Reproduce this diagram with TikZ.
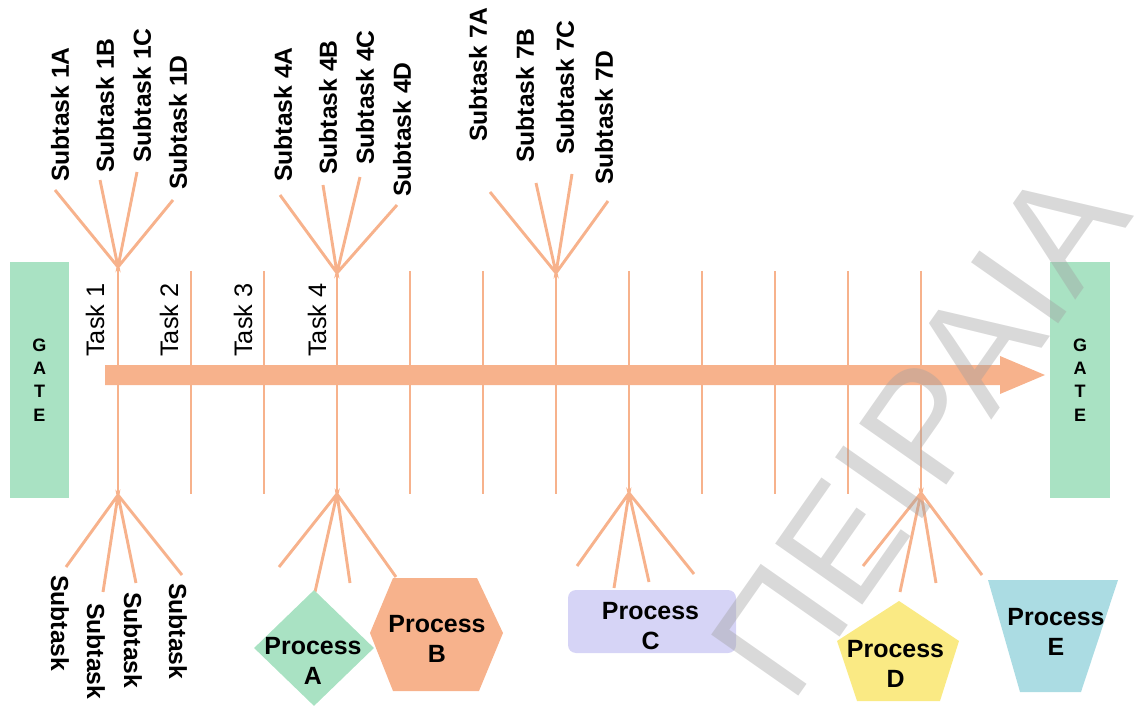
\documentclass[tikz,border=0pt]{standalone}
\usepackage{fontspec}
\setmainfont{Liberation Sans}
\usetikzlibrary{shapes.geometric,calc}

\definecolor{bone}{RGB}{247,178,140}
\definecolor{gategreen}{RGB}{169,226,195}
\definecolor{procA}{RGB}{169,226,195}
\definecolor{procB}{RGB}{247,178,140}
\definecolor{procC}{RGB}{214,212,246}
\definecolor{procD}{RGB}{250,234,132}
\definecolor{procE}{RGB}{171,220,227}
\definecolor{markgray}{RGB}{160,160,160}

\begin{document}
\begin{tikzpicture}[x=0.75pt,y=-0.75pt,
  rib/.style={draw=bone, line width=2.2pt},
  subup/.style={font=\bfseries\fontsize{18.5}{22}\selectfont, inner sep=0pt, anchor=west, rotate=90},
  subdown/.style={font=\bfseries\fontsize{18.5}{22}\selectfont, inner sep=0pt, anchor=west, rotate=-90},
  tasklabel/.style={font=\fontsize{19}{22}\selectfont, inner sep=0pt, anchor=west, rotate=90},
  gatebox/.style={fill=gategreen, minimum width=44.5pt, minimum height=177pt, inner sep=0pt,
                  align=center, font=\bfseries\fontsize{13.5}{17.5}\selectfont},
  plabel/.style={inner sep=0pt, align=center, font=\bfseries\fontsize{18.7}{22}\selectfont}]

\useasboundingbox (0,0) rectangle (1140,706);
\clip (0,0) rectangle (1140,706);

% gates at both ends
\node[gatebox] (gateL) at (39.5,380) {G\\A\\T\\E};
\node[gatebox] (gateR) at (1080,380) {G\\A\\T\\E};

% main spine arrow
\coordinate (tail) at (105,375);
\coordinate (tip) at (1045,375);
\fill[bone] ($(tail)+(0,-10)$) -- ($(tip)+(-45,-10)$) -- ($(tip)+(-45,-19)$) -- (tip)
  -- ($(tip)+(-45,19)$) -- ($(tip)+(-45,10)$) -- ($(tail)+(0,10)$) -- cycle;

% task ribs
\foreach \i/\top/\bot in {1/267/495,2/271/494,3/271/494,4/273/494,5/271/494,6/271/494,
                          7/273/494,8/271/493,9/271/494,10/271/494,11/271/494,12/271/493}{
  \coordinate (top\i) at ({118+73*(\i-1)},\top);
  \coordinate (bot\i) at ({118+73*(\i-1)},\bot);
  \draw[rib] (top\i) -- (bot\i);
}

% upper fans
\foreach \n/\xa/\ya/\xb/\yb/\xc/\yc/\xd/\yd in {
    1/55/190/100/180/137/172/173/200,
    4/280/195/323/185/360/177/397/205,
    7/490/192/536/183/572/174/608/201}{
  \coordinate (ua\n) at (\xa,\ya);
  \coordinate (ub\n) at (\xb,\yb);
  \coordinate (uc\n) at (\xc,\yc);
  \coordinate (ud\n) at (\xd,\yd);
  \draw[rib] (ua\n) -- (top\n) -- (ub\n) (uc\n) -- (top\n) -- (ud\n);
}

% lower fans
\foreach \n/\xa/\ya/\xb/\yb/\xc/\yc/\xd/\yd in {
    1/66/567/103/592/136/583/182/575,
    4/279/567/315/592/350/583/396/577,
    8/577/566/614/588/649/582/694/574,
    12/863/566/900/592/936/583/982/575}{
  \coordinate (la\n) at (\xa,\ya);
  \coordinate (lb\n) at (\xb,\yb);
  \coordinate (lc\n) at (\xc,\yc);
  \coordinate (ld\n) at (\xd,\yd);
  \draw[rib] (la\n) -- (bot\n) -- (lb\n) (lc\n) -- (bot\n) -- (ld\n);
}

% subtask labels above the spine
\node[subup] (s1a) at (60,182) {Subtask 1A};
\node[subup] (s1b) at (105,173) {Subtask 1B};
\node[subup] (s1c) at (142,163) {Subtask 1C};
\node[subup] (s1d) at (178,190) {Subtask 1D};
\node[subup] (s4a) at (283,182) {Subtask 4A};
\node[subup] (s4b) at (328,175) {Subtask 4B};
\node[subup] (s4c) at (365,165) {Subtask 4C};
\node[subup] (s4d) at (402,197) {Subtask 4D};
\node[subup] (s7a) at (478,142) {Subtask 7A};
\node[subup] (s7b) at (525,163) {Subtask 7B};
\node[subup] (s7c) at (565,155) {Subtask 7C};
\node[subup] (s7d) at (604,185) {Subtask 7D};

% task labels
\node[tasklabel] (task1) at (95,357) {Task 1};
\node[tasklabel] (task2) at (169,357) {Task 2};
\node[tasklabel] (task3) at (243,357) {Task 3};
\node[tasklabel] (task4) at (317,357) {Task 4};

% subtask labels below the spine
\node[subdown] (b1) at (60,575) {Subtask};
\node[subdown] (b2) at (96,603) {Subtask};
\node[subdown] (b3) at (133,592) {Subtask};
\node[subdown] (b4) at (178,583) {Subtask};

% process A: diamond
\node[diamond, fill=procA, minimum width=90pt, minimum height=87pt, inner sep=0pt] (pA) at (314,648) {};
\node[plabel] (lA) at (313,661) {Process\\A};

% process B: hexagon
\coordinate (pB) at (436,634);
\fill[procB] ($(pB)+(-66,-1)$) -- ($(pB)+(-43,-56)$) -- ($(pB)+(41,-56)$) -- ($(pB)+(67,-1)$)
  -- ($(pB)+(43,57)$) -- ($(pB)+(-43,57)$) -- cycle;
\node[plabel] (lB) at (437,639) {Process\\B};

% process C: rounded box
\node[rectangle, rounded corners=6pt, fill=procC, minimum width=126pt, minimum height=47.25pt, inner sep=0pt] (pC) at (652,621.5) {};
\node[plabel] (lC) at (650.5,626) {Process\\C};

% process D: pentagon
\coordinate (pD) at (898,650);
\fill[procD] ($(pD)+(1,-49)$) -- ($(pD)+(61,-9)$) -- ($(pD)+(42,51)$) -- ($(pD)+(-41,51)$) -- ($(pD)+(-61,-9)$) -- cycle;
\node[plabel] (lD) at (895.5,664) {Process\\D};

% process E: inverted trapezium
\coordinate (pE) at (1053,636);
\fill[procE] ($(pE)+(-65,-56)$) -- ($(pE)+(65,-56)$) -- ($(pE)+(28,56)$) -- ($(pE)+(-33,56)$) -- cycle;
\node[plabel] (lE) at (1056,632) {Process\\E};

% watermark
\node[rotate=55, anchor=base west, inner sep=0pt, text=markgray, text opacity=0.4,
      font=\fontsize{116}{116}\selectfont] (wm) at (791,707) {ΠΕΙΡΑΙΑ};

\end{tikzpicture}
\end{document}
